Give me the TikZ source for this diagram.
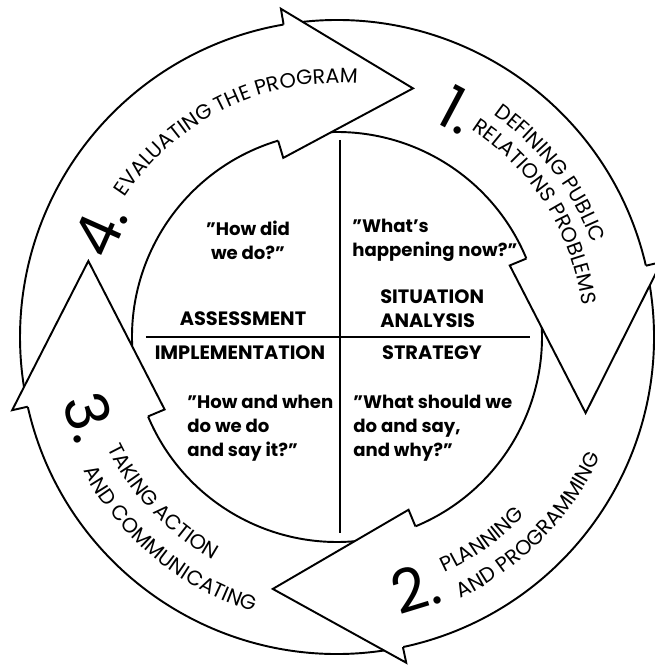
\documentclass[tikz,border=0pt]{standalone}
\usepackage{fontspec}
\setmainfont{Poppins}
\usetikzlibrary{decorations.text}

% radii of the ring, in picture units
\newcommand{\rOut}{317}
\newcommand{\rIn}{205}
\newcommand{\rBarbOut}{333}
\newcommand{\rBarbIn}{187}
\newcommand{\rTip}{260}
\newcommand{\arcfont}{\fontsize{11.8}{14}\selectfont}

\tikzset{
  outline/.style={line width=1.1pt, line join=miter},
  crossline/.style={line width=1.6pt},
  ringtext/.style={decorate, decoration={text along path, text align=center, text color=black}},
  quadlabel/.style={font=\bfseries\fontsize{11}{13.7}\selectfont, inner sep=0pt},
  quadtext/.style={font=\bfseries\fontsize{10.3}{13.7}\selectfont, inner sep=0pt},
  bignum/.style={font=\fontsize{34}{34}\selectfont, inner sep=0pt},
}

\begin{document}
\begin{tikzpicture}[x=0.02cm, y=0.02cm]
    \useasboundingbox (-337,-332) rectangle (317,337);

    % shafts of the four arrows (tail hides under the previous head)
    \foreach \bo/\bi/\tail in {13/22.5/97.2, -78/-67.5/10.5, -167.3/-157.2/-80.5, 99.7/106.7/190.2}
        \draw[outline, fill=white] (\bo:\rOut) arc[start angle=\bo, end angle=\tail, radius=\rOut]
            -- (\tail:\rIn) arc[start angle=\tail, end angle=\bi, radius=\rIn];

    % heads
    \foreach \tip/\bo/\bi in {-17/13/22.5, -104.3/-78/-67.5, -197/-167.3/-157.2, 73/99.7/106.7}
        \draw[outline, fill=white] (\bo:\rOut) -- (\bo:\rBarbOut) -- (\tip:\rTip)
            -- (\bi:\rBarbIn) -- (\bi:\rIn);

    % the four quarters
    \coordinate (top) at (3,197);
    \coordinate (bottom) at (3,-196);
    \coordinate (left) at (-191,0);
    \coordinate (right) at (193,0);
    \draw[crossline] (top) -- (bottom);
    \draw[crossline] (left) -- (right);

    \node[quadtext, align=center] (howdid) at (-89,97) {"How did\\we do?"};
    \node[quadtext, align=left, anchor=west] (whatsnow) at (15,97) {"What's\\happening now?"};
    \node[quadlabel, align=left, anchor=west] (situation) at (43,28) {SITUATION\\ANALYSIS};
    \node[quadlabel] (assess) at (-94,18) {ASSESSMENT};
    \node[quadlabel] (implement) at (-97,-16) {IMPLEMENTATION};
    \node[quadlabel] (strategy) at (95,-16) {STRATEGY};
    \node[quadtext, align=left, anchor=west] (howwhen) at (-150,-91) {"How and when\\do we do\\and say it?"};
    \node[quadtext, align=left, anchor=west] (whatsay) at (16,-91) {"What should we\\do and say,\\and why?"};

    % steps written round the ring
    \path[ringtext, decoration={text={|\arcfont|EVALUATING THE PROGRAM}}]
        (156:254) arc[start angle=156, end angle=76, radius=254];
    \path[ringtext, decoration={text={|\arcfont|DEFINING PUBLIC}}]
        (77.5:272) arc[start angle=77.5, end angle=-2.5, radius=272];
    \path[ringtext, decoration={text={|\arcfont|RELATIONS PROBLEMS}}]
        (72.2:247) arc[start angle=72.2, end angle=-7.8, radius=247];
    \path[ringtext, decoration={text={|\arcfont|PLANNING}}]
        (-94.5:259) arc[start angle=-94.5, end angle=-14.5, radius=259];
    \path[ringtext, decoration={text={|\arcfont|AND PROGRAMMING}}]
        (-84.5:289) arc[start angle=-84.5, end angle=-4.5, radius=289];
    \path[ringtext, decoration={text={|\arcfont|TAKING ACTION}}]
        (183.4:255) arc[start angle=183.4, end angle=263.4, radius=255];
    \path[ringtext, decoration={text={|\arcfont|AND COMMUNICATING}}]
        (190.5:287) arc[start angle=190.5, end angle=270.5, radius=287];

    \node[bignum, rotate=-28] (one) at (62:257) {1.};
    \node[bignum, rotate=17] (two) at (-72.7:263) {2.};
    \node[bignum, rotate=-72] (three) at (198:260) {3.};
    \node[bignum, rotate=66] (four) at (155.7:260) {4.};
\end{tikzpicture}
\end{document}
